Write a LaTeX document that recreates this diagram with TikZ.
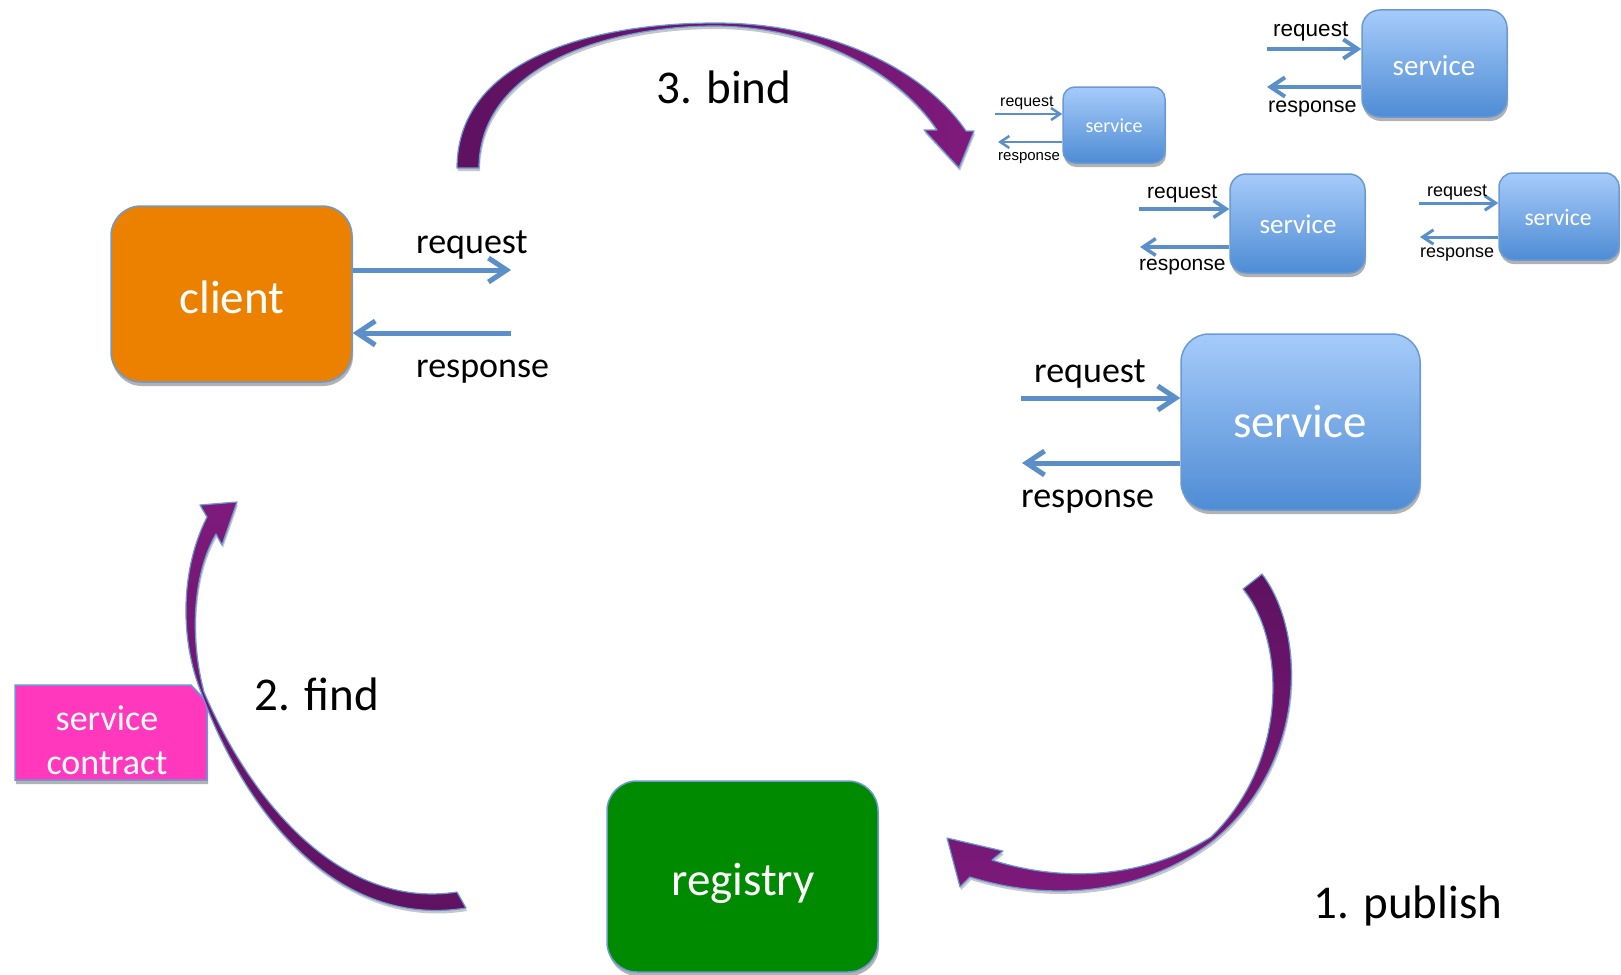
\documentclass[tikz,border=0pt]{standalone}
\usepackage{fontspec}
\setmainfont{Carlito}
\newfontfamily\arialfont{Liberation Sans}
\usetikzlibrary{arrows.meta,shadows}
\definecolor{arrowblue}{HTML}{5B8FC9}
\definecolor{edgeblue}{HTML}{6A9AD6}
\definecolor{svctop}{HTML}{A6CBFA}
\definecolor{svcbot}{HTML}{4E8CD4}
\definecolor{clientorange}{HTML}{EC8100}
\definecolor{regreen}{HTML}{008A00}
\definecolor{pinkc}{HTML}{FF38BE}
\definecolor{purplelight}{HTML}{7E1A7B}
\definecolor{purpledark}{HTML}{5E1260}
\begin{document}
\begin{tikzpicture}[x=1pt,y=-1pt,
  mybox/.style={draw=edgeblue, line width=1.5pt, rounded corners=#1, inner sep=0pt,
    drop shadow={shadow xshift=1pt,shadow yshift=-4pt,opacity=0.3,fill=black}},
  svcbox/.style={mybox=#1, top color=svctop, bottom color=svcbot},
  reqarrow/.style={draw=arrowblue, line width=#1, -{Straight Barb[length=0pt 3.6, width=0pt 4.8]}},
  bigtxt/.style={anchor=base, inner sep=0pt, font=\fontsize{47}{50}\selectfont},
  svctxt/.style={anchor=base, inner sep=0pt, text=white, font=\fontsize{#1}{#1}\selectfont},
  cal/.style={anchor=base west, inner sep=0pt, font=\fontsize{#1}{#1}\selectfont},
  ari/.style={anchor=base west, inner sep=0pt, font=\arialfont\fontsize{#1}{#1}\selectfont},
  purplearrow/.style={draw=edgeblue, line width=1.2pt, line join=round,
    drop shadow={shadow xshift=1pt,shadow yshift=-3pt,opacity=0.22,fill=black}}
]
\useasboundingbox (0,0) rectangle (1621,974);
\fill[white] (0,0) rectangle (1621,974);

% ---------- client ----------
\node[mybox=30pt, fill=clientorange, minimum width=241pt, minimum height=176pt] (client) at (231.5,294) {};
\node[svctxt=47] (clienttxt) at (232,313) {client};
\coordinate (creqend) at (511,270);
\coordinate (cresbeg) at (511,333);
\draw[reqarrow=5pt] (client.east |- creqend) -- (creqend);
\draw[reqarrow=5pt] (cresbeg) -- (client.east |- cresbeg);
\node[cal=36] (creqlbl) at (416,253) {request};
\node[cal=36] (creslbl) at (416,377) {response};

% ---------- big service ----------
\node[svcbox=28pt, minimum width=239pt, minimum height=176pt] (svcA) at (1300.5,422) {};
\node[svctxt=47] (svcAtxt) at (1300,437) {service};
\coordinate (areqbeg) at (1021,398);
\coordinate (aresend) at (1022,463);
\draw[reqarrow=5pt] (areqbeg) -- (svcA.west |- areqbeg);
\draw[reqarrow=5pt] (svcA.west |- aresend) -- (aresend);
\node[cal=36] (areqlbl) at (1034,382) {request};
\node[cal=36] (areslbl) at (1021,507) {response};

% ---------- top right service ----------
\node[svcbox=18pt, minimum width=145pt, minimum height=107pt] (svcB) at (1434.5,63.5) {};
\node[svctxt=29] (svcBtxt) at (1434,75) {service};
\coordinate (breqbeg) at (1267,49);
\coordinate (bresend) at (1267,87);
\draw[reqarrow=4pt] (breqbeg) -- (svcB.west |- breqbeg);
\draw[reqarrow=4pt] (svcB.west |- bresend) -- (bresend);
\node[ari=22.5] (breqlbl) at (1273,37) {request};
\node[ari=21.5] (breslbl) at (1268,112) {response};

% ---------- small left service ----------
\node[svcbox=12pt, minimum width=102pt, minimum height=76pt] (svcC) at (1114,125) {};
\node[svctxt=20] (svcCtxt) at (1114,132) {service};
\coordinate (creqbeg2) at (995,114);
\coordinate (cresend2) at (998,142);
\draw[reqarrow=2.5pt] (creqbeg2) -- (svcC.west |- creqbeg2);
\draw[reqarrow=2.5pt] (svcC.west |- cresend2) -- (cresend2);
\node[ari=16] (c2reqlbl) at (1000,106) {request};
\node[ari=15] (c2reslbl) at (998,160) {response};

% ---------- middle service ----------
\node[svcbox=16pt, minimum width=135pt, minimum height=99pt] (svcD) at (1297.5,223.5) {};
\node[svctxt=27] (svcDtxt) at (1298,233) {service};
\coordinate (dreqbeg) at (1139,209);
\coordinate (dresend) at (1140,247);
\draw[reqarrow=3.5pt] (dreqbeg) -- (svcD.west |- dreqbeg);
\draw[reqarrow=3.5pt] (svcD.west |- dresend) -- (dresend);
\node[ari=21] (dreqlbl) at (1147,198) {request};
\node[ari=21] (dreslbl) at (1139,270) {response};

% ---------- right service ----------
\node[svcbox=14pt, minimum width=120pt, minimum height=87pt] (svcE) at (1559,216.5) {};
\node[svctxt=23.5] (svcEtxt) at (1558,225) {service};
\coordinate (ereqbeg) at (1419,203);
\coordinate (eresend) at (1420,237);
\draw[reqarrow=3pt] (ereqbeg) -- (svcE.west |- ereqbeg);
\draw[reqarrow=3pt] (svcE.west |- eresend) -- (eresend);
\node[ari=18] (ereqlbl) at (1427,196) {request};
\node[ari=18] (ereslbl) at (1420,257) {response};

% ---------- registry ----------
\node[mybox=30pt, fill=regreen, minimum width=271pt, minimum height=191pt] (registry) at (742.5,876.5) {};
\node[svctxt=47] (regtxt) at (743,895) {registry};

% ---------- service contract (snipped corner) ----------
\path[fill=pinkc, draw=edgeblue, line width=1.5pt, line join=miter,
  drop shadow={shadow xshift=1pt,shadow yshift=-4pt,opacity=0.3,fill=black}]
  (15,685) -- (191,685) -- (207,702) -- (207,780) -- (15,780) -- cycle;
\coordinate (contract) at (111,732.5);
\node[svctxt=36] (contract1) at (107,730) {service};
\node[svctxt=36] (contract2) at (107,774) {contract};

% ---------- curved arrows ----------
% 3. bind
\path[purplearrow, left color=purpledark, right color=purplelight]
  (457,168) .. controls (457,60) and (590,23) .. (716,23)
  .. controls (830,23) and (925,70) .. (966,131)
  -- (974,131) -- (959,168) -- (924,130) -- (937,130)
  .. controls (900,75) and (820,27) .. (716,26)
  .. controls (600,26) and (479,70) .. (479,168) -- cycle;
% 2. find
\path[purplearrow, top color=purplelight, bottom color=purpledark]
  (207,517) .. controls (180,570) and (180,640) .. (201,692)
  .. controls (240,800) and (330,930) .. (466,908)
  -- (457,892)
  .. controls (340,910) and (250,800) .. (204,692)
  .. controls (190,640) and (192,575) .. (216,534)
  -- (222,545) -- (237,502) -- (200,505) -- cycle;
% 1. publish
\path[purplearrow, top color=purpledark, bottom color=purplelight]
  (1262,574) .. controls (1305,630) and (1310,760) .. (1214,840)
  .. controls (1150,890) and (1060,905) .. (970,877)
  -- (960,887) -- (947,838) -- (1003,851) -- (992,860)
  .. controls (1070,885) and (1150,875) .. (1211,837)
  .. controls (1290,760) and (1285,640) .. (1243,589) -- cycle;

% ---------- step labels ----------
\node[bigtxt] (bind) at (724,103) {3. bind};
\node[bigtxt] (find) at (317,710) {2. find};
\node[bigtxt] (publish) at (1408,918) {1. publish};
\end{tikzpicture}
\end{document}
